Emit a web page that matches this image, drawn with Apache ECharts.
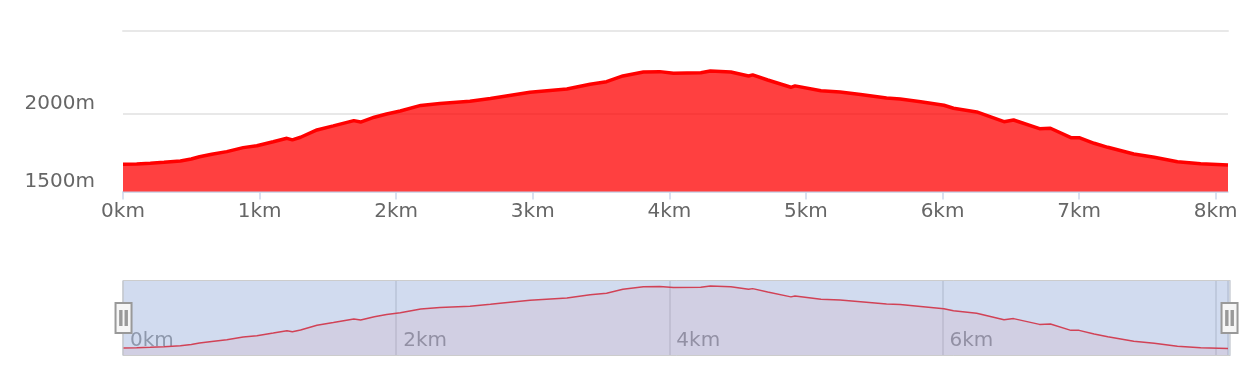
<!DOCTYPE html>
<html>
<head>
<meta charset="utf-8">
<script src="https://cdn.jsdelivr.net/npm/echarts@6/dist/echarts.min.js"></script>
<style>
html,body{margin:0;padding:0;background:#fff;}
#main{width:1242px;height:370px;}
</style>
</head>
<body>
<div id="main"></div>
<script>
// distance along route (km)
var distances = [0.00,0.10,0.20,0.30,0.42,0.50,0.56,0.65,0.76,0.88,0.98,1.10,1.20,1.24,1.30,1.42,1.54,1.69,1.74,1.84,1.93,2.03,2.18,2.32,2.54,2.69,2.76,2.98,3.25,3.42,3.54,3.66,3.81,3.93,4.03,4.23,4.30,4.45,4.58,4.61,4.72,4.89,4.92,5.11,5.25,5.40,5.59,5.69,5.84,6.01,6.08,6.25,6.45,6.52,6.71,6.79,6.94,7.00,7.11,7.21,7.40,7.55,7.72,7.89,8.09];
// elevation (m)
var elevations = [1676,1678,1682,1688,1697,1710,1724,1740,1757,1783,1795,1821,1843,1833,1850,1897,1923,1957,1948,1979,2000,2019,2055,2068,2082,2100,2110,2140,2161,2192,2208,2245,2271,2273,2263,2266,2277,2271,2245,2252,2219,2172,2181,2150,2142,2125,2103,2097,2079,2056,2037,2013,1950,1961,1905,1908,1847,1847,1811,1785,1742,1721,1692,1679,1671];
var yTicks = [1500, 2000, 2500];
var xStepMain = 1;
var xStepMini = 2;

var points = distances.map(function (d, i) { return [d, elevations[i]]; });
var xMax = distances[distances.length - 1];
var FONT = 'DejaVu Sans';

var chart = echarts.init(document.getElementById('main'), null, {renderer: 'canvas'});
chart.setOption({
  animation: false,
  backgroundColor: '#fff',
  grid: [
    {left: 123, right: 14, top: 31, bottom: 178.5},
    {left: 123, right: 14, top: 281, height: 74}
  ],
  xAxis: [
    {
      type: 'value', gridIndex: 0, min: 0, max: xMax, interval: xStepMain,
      axisLine: {show: true, lineStyle: {color: '#ccd6eb', width: 1.5}},
      axisTick: {show: true, length: 8, lineStyle: {color: '#ccd6eb', width: 1.5}},
      splitLine: {show: false},
      axisLabel: {formatter: '{value}km', color: '#666', fontFamily: FONT, fontSize: 20, margin: 10}
    },
    {
      type: 'value', gridIndex: 1, min: 0, max: xMax, interval: xStepMini,
      axisLine: {show: false}, axisTick: {show: false},
      splitLine: {show: true, lineStyle: {color: '#d8d8d8', width: 1.5}},
      axisLabel: {
        inside: true, align: 'left', margin: 4, padding: [0, 0, 0, 7],
        color: '#8f8f8f', fontFamily: FONT, fontSize: 20,
        formatter: function (v) { return v >= 8 ? '' : v + 'km'; }
      }
    },
    {
      type: 'value', gridIndex: 0, position: 'top', min: 0, max: xMax,
      axisLine: {show: true, lineStyle: {color: '#e8e8e8', width: 2}},
      axisTick: {show: false}, axisLabel: {show: false}, splitLine: {show: false}
    }
  ],
  yAxis: [
    {
      type: 'value', gridIndex: 0, min: yTicks[0], max: 2535, interval: 500,
      axisLine: {show: false}, axisTick: {show: false},
      splitLine: {show: true, lineStyle: {color: ['#e8e8e8', '#e8e8e8', 'rgba(0,0,0,0)'], width: 2}},
      axisLabel: {
        color: '#666', fontFamily: FONT, fontSize: 20, margin: 28, verticalAlign: 'bottom',
        formatter: function (v) { return v >= 2500 ? '' : v + 'm'; }
      }
    },
    {
      type: 'value', gridIndex: 1, min: 1608, max: 2326, show: false
    }
  ],
  dataZoom: [{
    type: 'slider', xAxisIndex: [1], start: 0, end: 100,
    left: 121, right: 13, top: 280, height: 76,
    backgroundColor: 'rgba(0,0,0,0)',
    borderColor: '#cccccc', borderRadius: 0,
    fillerColor: 'rgba(140,165,215,0.4)',
    showDataShadow: false, showDetail: false,
    brushSelect: false, moveHandleSize: 0,
    handleIcon: 'path://M0,0H16V30H0Z M4.6,8V22H6.0V8Z M10.0,8V22H11.4V8Z',
    handleSize: 30,
    handleStyle: {color: '#f6f6f6', borderColor: '#999999', borderWidth: 2},
    emphasis: {handleStyle: {color: '#f6f6f6', borderColor: '#999999', borderWidth: 2}}
  }],
  series: [
    {
      type: 'line', xAxisIndex: 0, yAxisIndex: 0, data: points,
      showSymbol: false, symbol: 'none',
      lineStyle: {color: '#ff0000', width: 3.5},
      areaStyle: {color: '#ff0000', opacity: 0.75}
    },
    {
      type: 'line', xAxisIndex: 1, yAxisIndex: 1, data: points,
      showSymbol: false, symbol: 'none',
      lineStyle: {color: '#ff0000', width: 1.5},
      areaStyle: {color: '#ff0000', opacity: 0.08}
    }
  ]
});
</script>
</body>
</html>
